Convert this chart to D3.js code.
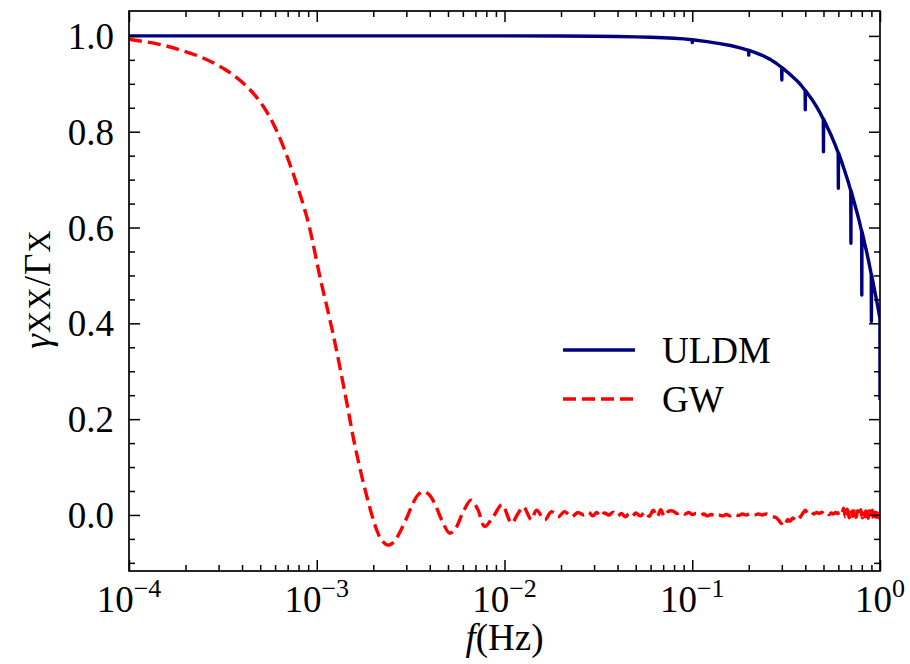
<!DOCTYPE html>
<html><head><meta charset="utf-8">
<script src="https://cdn.jsdelivr.net/npm/d3@7"></script>
<style>
body{margin:0;background:#fff}
svg{display:block}
text{font-family:"Liberation Serif","Times New Roman",serif;fill:#000}
</style>
</head><body>
<svg id="chart" width="910" height="664"></svg>
<script>
// ---- data ----
const uldmFreq = [1e-4, 1e-3, 1e-2, 0.02, 0.03, 0.04, 0.05, 0.06, 0.07, 0.08, 0.09,
  0.0998, 0.1, 0.1002, 0.12, 0.14, 0.16, 0.18,
  0.1996, 0.2, 0.2004, 0.22, 0.24, 0.26, 0.28,
  0.2994, 0.3, 0.3006, 0.32, 0.34, 0.36, 0.38,
  0.3992, 0.4, 0.4008, 0.42, 0.44, 0.46, 0.48,
  0.499, 0.5, 0.501, 0.525, 0.55, 0.575,
  0.5988, 0.6, 0.6012, 0.625, 0.65, 0.675,
  0.6986, 0.7, 0.7014, 0.725, 0.75, 0.775,
  0.7984, 0.8, 0.8016, 0.825, 0.85, 0.875,
  0.8982, 0.9, 0.9018, 0.925, 0.95, 0.97, 0.99, 0.999, 1.0];
const uldmGamma = [1.0, 1.0, 1.0, 0.9997, 0.9993, 0.9988, 0.998, 0.9972, 0.9962, 0.995, 0.9937,
  0.992, 0.986, 0.992, 0.988, 0.984, 0.980, 0.975,
  0.970, 0.960, 0.970, 0.964, 0.958, 0.951, 0.943,
  0.934, 0.908, 0.934, 0.925, 0.916, 0.907, 0.897,
  0.886, 0.846, 0.886, 0.875, 0.864, 0.852, 0.839,
  0.826, 0.758, 0.826, 0.809, 0.792, 0.774,
  0.756, 0.682, 0.756, 0.737, 0.717, 0.697,
  0.677, 0.567, 0.677, 0.656, 0.635, 0.614,
  0.592, 0.459, 0.592, 0.570, 0.548, 0.525,
  0.502, 0.404, 0.502, 0.479, 0.456, 0.438, 0.419, 0.41, 0.24];

const gwFreq = [1.0e-4, 1.43e-4, 1.83e-4, 2.44e-4, 3.25e-4, 4.15e-4, 5.09e-4, 6.0e-4, 7.06e-4,
  7.98e-4, 9.02e-4, 1.04e-3, 1.22e-3, 1.43e-3, 1.60e-3, 1.85e-3, 2.08e-3, 2.22e-3, 2.40e-3, 2.58e-3, 2.77e-3,
  3.0e-3, 3.27e-3, 3.48e-3, 3.70e-3, 3.95e-3, 4.27e-3, 4.65e-3, 5.10e-3, 5.45e-3, 6.05e-3, 6.63e-3, 7.2e-3, 7.84e-3, 8.7e-3, 9.7e-3, 1.09e-2,
  1.18e-2, 1.26e-2, 1.39e-2, 1.48e-2, 1.64e-2, 1.78e-2, 1.93e-2, 2.09e-2, 2.27e-2, 2.46e-2,
  0.0265, 0.028, 0.0295, 0.031, 0.0325, 0.034, 0.036, 0.038, 0.040, 0.042, 0.044, 0.046,
  0.048, 0.050, 0.053, 0.056, 0.059, 0.062, 0.065, 0.068, 0.071, 0.075, 0.079, 0.083,
  0.087, 0.091, 0.096, 0.10, 0.105, 0.11, 0.115, 0.12, 0.126, 0.132, 0.138, 0.145, 0.152,
  0.16, 0.168, 0.176, 0.185, 0.194, 0.204, 0.214, 0.225, 0.236, 0.248, 0.26, 0.272, 0.281,
  0.29, 0.298, 0.305, 0.313, 0.322, 0.332, 0.343, 0.355, 0.367, 0.38, 0.392, 0.40, 0.41,
  0.42, 0.43, 0.445, 0.46, 0.475, 0.49, 0.505, 0.52, 0.535, 0.55, 0.565, 0.58, 0.595,
  0.61, 0.625, 0.64, 0.655, 0.67, 0.685, 0.70, 0.715, 0.73, 0.745, 0.76, 0.775, 0.79,
  0.805, 0.82, 0.835, 0.85, 0.865, 0.88, 0.895, 0.91, 0.925, 0.94, 0.955, 0.97, 0.985, 1.0];
const gwGamma = [0.993, 0.983, 0.972, 0.955, 0.930, 0.898, 0.858, 0.809, 0.741,
  0.680, 0.610, 0.497, 0.379, 0.244, 0.143, 0.038, -0.030, -0.053, -0.063, -0.056, -0.036,
  -0.008, 0.026, 0.043, 0.049, 0.043, 0.022, -0.012, -0.038, -0.030, 0.008, 0.031, 0.012, -0.024, -0.004, 0.021, -0.017,
  0.003, 0.017, -0.010, 0.010, -0.010, 0.007, -0.004, 0.007, -0.004, 0.005,
  0.000, 0.006, -0.002, 0.005, -0.003, 0.004, 0.000, 0.006, -0.002, 0.003, -0.004, 0.002,
  -0.003, 0.004, -0.002, 0.006, -0.003, 0.010, -0.004, 0.011, -0.003, 0.008, 0.008, 0.003,
  0.006, 0.002, 0.005, 0.001, 0.003, -0.001, 0.002, -0.002, 0.001, -0.003, 0.000, -0.002, 0.001,
  -0.002, 0.002, -0.001, 0.002, 0.000, 0.003, 0.000, 0.002, 0.000, 0.002, -0.001, -0.004, -0.006,
  -0.012, -0.018, -0.014, -0.019, -0.010, -0.013, -0.006, -0.012, -0.008, -0.002, 0.006, 0.010, 0.004,
  0.003, 0.006, 0.002, 0.005, 0.003, 0.006, 0.002, 0.005, 0.001, 0.004, 0.002, 0.005, 0.003,
  0.006, 0.001, 0.014, -0.004, 0.012, -0.006, 0.010, -0.003, 0.013, -0.005, 0.009, -0.002, 0.011,
  -0.006, 0.008, -0.004, 0.012, -0.007, 0.009, -0.003, 0.010, -0.008, 0.006, -0.005, 0.008, -0.006, 0.002];

const seriesNames = ["ULDM", "GW"];
const seriesColors = ["#000080", "#ff0000"];
const xTickValues = [1e-4, 1e-3, 1e-2, 1e-1, 1];
const xTickExponents = ["\u22124", "\u22123", "\u22122", "\u22121", "0"];
const yTickValues = [0, 0.2, 0.4, 0.6, 0.8, 1.0];
const yTickLabels = ["0.0", "0.2", "0.4", "0.6", "0.8", "1.0"];
const yMinorValues = [-0.1, -0.05, 0.05, 0.1, 0.15, 0.25, 0.3, 0.35, 0.45, 0.5, 0.55, 0.65, 0.7, 0.75, 0.85, 0.9, 0.95];

// ---- layout ----
const L = 129, R = 880, T = 11, B = 571;
const svg = d3.select("#chart");
const x = d3.scaleLog().domain([1e-4, 1]).range([L, R]);
const y = d3.scaleLinear().domain([-0.117, 1.052]).range([B, T]);

const xMinor = [];
for (let e = -4; e < 0; e++) for (let m = 2; m <= 9; m++) xMinor.push(m * Math.pow(10, e));

svg.append("defs").append("clipPath").attr("id", "clip")
  .append("rect").attr("x", L).attr("y", T).attr("width", R - L).attr("height", B - T);

// data lines
const lineStraight = d3.line().x(d => x(d[0])).y(d => y(d[1]));
const lineSmooth = d3.line().x(d => x(d[0])).y(d => y(d[1])).curve(d3.curveCatmullRom.alpha(0.5));
const plot = svg.append("g").attr("clip-path", "url(#clip)");
plot.append("path").datum(uldmFreq.map((f, i) => [f, uldmGamma[i]]))
  .attr("d", lineStraight).attr("fill", "none").attr("stroke", seriesColors[0])
  .attr("stroke-width", 3.4).attr("stroke-linejoin", "round").attr("stroke-linecap", "butt");
plot.append("path").datum(gwFreq.map((f, i) => [f, gwGamma[i]]))
  .attr("d", lineSmooth).attr("fill", "none").attr("stroke", seriesColors[1])
  .attr("stroke-width", 3.4).attr("stroke-dasharray", "13,6").attr("stroke-linejoin", "round");

// axes (ticks inward on all four sides)
function styleAxis(g) {
  g.select(".domain").remove();
  g.selectAll("line").attr("stroke", "#000").attr("stroke-width", 1.5);
}
svg.append("g").attr("transform", `translate(${L},0)`)
  .call(d3.axisLeft(y).tickValues(yTickValues).tickSize(-11).tickPadding(15)
    .tickFormat((d, i) => yTickLabels[i]))
  .call(styleAxis)
  .call(g => g.selectAll("text").attr("font-size", 37).attr("font-family", "Liberation Serif").attr("dy", "0.34em"));
svg.append("g").attr("transform", `translate(${L},0)`)
  .call(d3.axisLeft(y).tickValues(yMinorValues).tickSize(-6).tickFormat("")).call(styleAxis);
svg.append("g").attr("transform", `translate(${R},0)`)
  .call(d3.axisRight(y).tickValues(yTickValues).tickSize(-11).tickFormat("")).call(styleAxis);
svg.append("g").attr("transform", `translate(${R},0)`)
  .call(d3.axisRight(y).tickValues(yMinorValues).tickSize(-6).tickFormat("")).call(styleAxis);
svg.append("g").attr("transform", `translate(0,${B})`)
  .call(d3.axisBottom(x).tickValues(xTickValues).tickSize(-11).tickFormat("")).call(styleAxis);
svg.append("g").attr("transform", `translate(0,${B})`)
  .call(d3.axisBottom(x).tickValues(xMinor).tickSize(-6).tickFormat("")).call(styleAxis);
svg.append("g").attr("transform", `translate(0,${T})`)
  .call(d3.axisTop(x).tickValues(xTickValues).tickSize(-11).tickFormat("")).call(styleAxis);
svg.append("g").attr("transform", `translate(0,${T})`)
  .call(d3.axisTop(x).tickValues(xMinor).tickSize(-6).tickFormat("")).call(styleAxis);

// x tick labels with exponents
const xl = svg.append("g").selectAll("text").data(xTickValues).join("text")
  .attr("x", d => x(d)).attr("y", 612).attr("text-anchor", "middle").attr("font-size", 37);
xl.append("tspan").text("10");
xl.append("tspan").attr("dy", -15).attr("font-size", 26).text((d, i) => xTickExponents[i]);

// frame
svg.append("rect").attr("x", L).attr("y", T).attr("width", R - L).attr("height", B - T)
  .attr("fill", "none").attr("stroke", "#000").attr("stroke-width", 1.7);

// axis labels
const xlab = svg.append("text").attr("x", (L + R) / 2).attr("y", 650)
  .attr("text-anchor", "middle").attr("font-size", 37);
xlab.append("tspan").attr("font-style", "italic").text("f");
xlab.append("tspan").text("(Hz)");

const ylab = svg.append("text").attr("transform", "translate(50,289) rotate(-90)")
  .attr("text-anchor", "middle").attr("font-size", 37).attr("letter-spacing", 1);
ylab.append("tspan").attr("font-style", "italic").text("\u03B3");
ylab.append("tspan").attr("font-size", 31).text("XX");
ylab.append("tspan").text("/\u0393");
ylab.append("tspan").attr("font-size", 31).text("X");

// legend
const legY = [350, 399];
const leg = svg.append("g").selectAll("g").data(seriesNames).join("g");
leg.append("line").attr("x1", 563).attr("x2", 635)
  .attr("y1", (d, i) => legY[i]).attr("y2", (d, i) => legY[i])
  .attr("stroke", (d, i) => seriesColors[i]).attr("stroke-width", 3.4)
  .attr("stroke-dasharray", (d, i) => i === 1 ? "13,6" : null);
leg.append("text").attr("x", 662).attr("y", (d, i) => legY[i] + 13)
  .attr("font-size", 37).text(d => d);
</script>
</body></html>
